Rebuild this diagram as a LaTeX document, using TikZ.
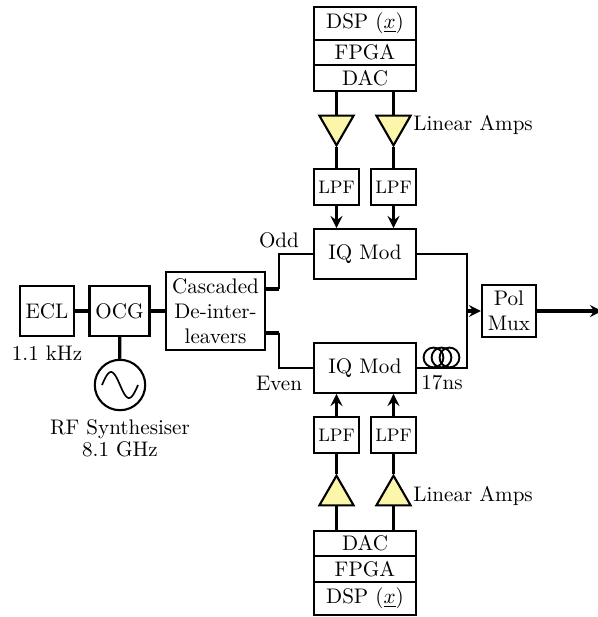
\documentclass[tikz,border=0pt]{standalone}
\usepackage{amsmath}
\usetikzlibrary{calc,shapes.geometric}
\definecolor{ampyellow}{RGB}{252,246,170}
\tikzset{
    blockbox/.style={draw, line width=1pt, inner sep=0pt, align=center},
    lpfbox/.style={blockbox, minimum width=0.75cm, minimum height=0.6cm, font=\fontsize{8.6}{10}\selectfont},
    ampbox/.style={draw, line width=1pt, fill=ampyellow, regular polygon, regular polygon sides=3, minimum size=0.66cm, inner sep=0pt},
    fatline/.style={line width=1.5pt},
    fineline/.style={line width=0.9pt},
}
\begin{document}
\begin{tikzpicture}[x=1cm/60, y=-1cm/60, >=stealth]
    \useasboundingbox (0,0) rectangle (598,617);
    % transmitter chain
    \node [blockbox, minimum width=0.9cm, minimum height=0.83cm] (ecl) at (47,311) {ECL};
    \node [blockbox, minimum width=1cm, minimum height=0.83cm] (ocg) at (119.5,311) {OCG};
    \node [blockbox, minimum width=1.65cm, minimum height=1.3cm] (deint) at (215.5,311) {Cascaded\\De-inter-\\leavers};
    \node [draw, circle, line width=1pt, minimum size=0.84cm, inner sep=0pt] (synth) at (120,385) {};
    \node (ecllabel) at (47,353) {1.1 kHz};
    \node [align=center] (synthlabel) at (120,438) {RF Synthesiser\\[-1.5pt]8.1 GHz};
    \node (oddlabel) at (279,240) {Odd};
    \node (evenlabel) at (279,383) {Even};
    % modulators
    \node [blockbox, minimum width=1.7cm, minimum height=0.83cm] (iqodd) at (365,254) {IQ Mod};
    \node [blockbox, minimum width=1.7cm, minimum height=0.83cm] (iqeven) at (365,368) {IQ Mod};
    \node [blockbox, minimum width=0.9cm, minimum height=0.88cm] (polmux) at (509,311) {Pol\\Mux};
    \coordinate (rail) at (467,311);
    \coordinate (output) at (602,311);
    \coordinate (oddtap) at (265,289);
    \coordinate (eventap) at (265,333);
    \coordinate (oddknee) at (279,289);
    \coordinate (evenknee) at (279,333);
    \coordinate (oddbend) at (279,254);
    \coordinate (evenbend) at (279,368);
    % odd arm
    \node [blockbox, minimum width=1.7cm, minimum height=0.55cm] (dspodd) at (365,23.5) {DSP ($\underline{x}$)};
    \node [blockbox, minimum width=1.7cm, minimum height=0.425cm] (fpgaodd) at (365,52.5) {FPGA};
    \node [blockbox, minimum width=1.7cm, minimum height=0.425cm] (dacodd) at (365,78) {DAC};
    % even arm
    \node [blockbox, minimum width=1.7cm, minimum height=0.425cm] (daceven) at (365,543.5) {DAC};
    \node [blockbox, minimum width=1.7cm, minimum height=0.425cm] (fpgaeven) at (365,569) {FPGA};
    \node [blockbox, minimum width=1.7cm, minimum height=0.55cm] (dspeven) at (365,598.5) {DSP ($\underline{x}$)};
    \foreach \s/\xc in {l/336.5,r/393.5} {
        \node [ampbox, shape border rotate=180] (ampodd\s) at (\xc,125.5) {};
        \node [lpfbox] (lpfodd\s) at (\xc,187) {LPF};
        \node [ampbox] (ampeven\s) at (\xc,495.5) {};
        \node [lpfbox] (lpfeven\s) at (\xc,435) {LPF};
        \draw [fatline] (dacodd.south -| ampodd\s) -- (ampodd\s.corner 2 -| ampodd\s);
        \draw [fatline] (ampodd\s.corner 1) -- (lpfodd\s.north);
        \draw [fatline, ->] (lpfodd\s.south) -- (iqodd.north -| lpfodd\s);
        \draw [fatline] (daceven.north -| ampeven\s) -- (ampeven\s.corner 2 -| ampeven\s);
        \draw [fatline] (ampeven\s.corner 1) -- (lpfeven\s.south);
        \draw [fatline, ->] (lpfeven\s.north) -- (iqeven.south -| lpfeven\s);
    }
    \node [anchor=west, inner sep=0pt] (ampoddlabel) at (413,125) {Linear Amps};
    \node [anchor=west, inner sep=0pt] (ampevenlabel) at (413,496) {Linear Amps};
    % connections
    \draw [fatline] (ecl) -- (ocg);
    \draw [fatline] (ocg) -- (deint);
    \draw [fatline] (ocg) -- (synth);
    \draw [fatline] (oddtap) -- (oddknee);
    \draw [fatline] (eventap) -- (evenknee);
    \draw [fineline] (oddknee) -- (oddbend) -- (iqodd.west);
    \draw [fineline] (evenknee) -- (evenbend) -- (iqeven.west);
    \draw [fineline] (iqodd.east) -| (rail);
    \draw [fineline] (iqeven.east) -| (rail);
    \draw [fatline, ->] (rail) -- (polmux.west);
    \draw [fatline, ->] (polmux.east) -- (output);
    % sine inside the synthesiser
    \begin{scope}[shift={(synth.center)}]
        \draw [line width=0.8pt] plot [variable=\t, domain=-180:180, samples=50, smooth] ({\t/180*18}, {13*sin(\t)});
    \end{scope}
    % delay fibre
    \foreach \xc [count=\i] in {433.5,441.5,449.5} {
        \node [draw, circle, line width=0.9pt, minimum size=0.33cm, inner sep=0pt] (coil\i) at (\xc,357.5) {};
    }
    \node (fibrelabel) at (442,383) {17ns};
\end{tikzpicture}
\end{document}
